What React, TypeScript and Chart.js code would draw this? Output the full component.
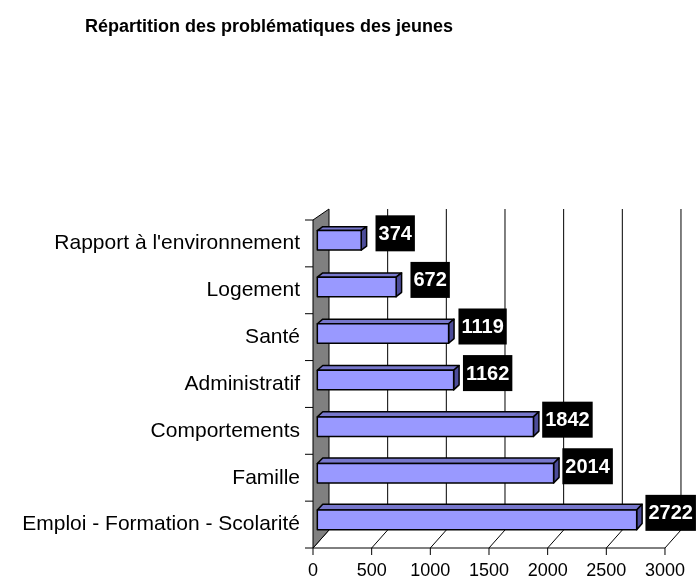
import { useEffect, useRef } from "react";
import { Chart, registerables } from "chart.js";

Chart.register(...registerables);

const chartTitle = "Répartition des problématiques des jeunes";
const categories = [
  "Rapport à l'environnement",
  "Logement",
  "Santé",
  "Administratif",
  "Comportements",
  "Famille",
  "Emploi - Formation - Scolarité",
];
const values = [374, 672, 1119, 1162, 1842, 2014, 2722];
const xMin = 0;
const xMax = 3000;
const xStep = 500;

const FONT = "'Liberation Sans', Arial, Helvetica, sans-serif";
const BAR_FRONT = "#9999FF";
const BAR_TOP = "#7777CC";
const BAR_SIDE = "#4C4C99";
const WALL = "#808080";

function makeProj(a: { left: number; top: number; right: number; bottom: number }) {
  const T = a.top;
  const B = a.bottom;
  const D = 16;
  const backT = T - 11;
  const backB = B - 18;
  return (x: number, y: number, t: number): [number, number] => {
    const backY = backT + ((y - T) * (backB - backT)) / (B - T);
    return [x + D * t, y + t * (backY - y)];
  };
}

const threeDPlugin = {
  id: "threeD",
  beforeDatasetsDraw(chart: any) {
    const { ctx, chartArea: a, scales } = chart;
    const xs = scales.x;
    const ys = scales.y;
    const L = a.left;
    const T = a.top;
    const B = a.bottom;
    const proj = makeProj(a);
    ctx.save();
    ctx.strokeStyle = "#000";
    ctx.lineWidth = 1;
    xs.ticks.forEach((tk: any) => {
      const px = xs.getPixelForValue(tk.value);
      const [bx1, by1] = proj(px, T, 1);
      const [bx2, by2] = proj(px, B, 1);
      const [fx, fy] = proj(px, B, 0);
      ctx.beginPath();
      if (tk.value !== xMin) {
        ctx.moveTo(bx1, by1);
        ctx.lineTo(bx2, by2);
      }
      ctx.moveTo(bx2, by2);
      ctx.lineTo(fx, fy);
      ctx.moveTo(fx, fy);
      ctx.lineTo(fx, fy + 7);
      ctx.stroke();
    });
    ctx.beginPath();
    ctx.moveTo(xs.getPixelForValue(xMin), B);
    ctx.lineTo(xs.getPixelForValue(xMax), B);
    ctx.stroke();
    const p1 = proj(L, T, 0);
    const p2 = proj(L, T, 1);
    const p3 = proj(L, B, 1);
    const p4 = proj(L, B, 0);
    ctx.beginPath();
    ctx.moveTo(p1[0], p1[1]);
    ctx.lineTo(p2[0], p2[1]);
    ctx.lineTo(p3[0], p3[1]);
    ctx.lineTo(p4[0], p4[1]);
    ctx.closePath();
    ctx.fillStyle = WALL;
    ctx.fill();
    ctx.stroke();
    const n = ys.ticks.length;
    const step = (B - T) / n;
    ctx.beginPath();
    for (let i = 0; i <= n; i++) {
      const y = i < n ? ys.getPixelForValue(i) - step / 2 : ys.getPixelForValue(n - 1) + step / 2;
      ctx.moveTo(L - 8, y);
      ctx.lineTo(L, y);
    }
    ctx.stroke();
    ctx.restore();
  },
  afterDatasetsDraw(chart: any) {
    const { ctx, chartArea: a } = chart;
    const proj = makeProj(a);
    const meta = chart.getDatasetMeta(0);
    const t0 = 0.27;
    const t1 = 0.61;
    ctx.save();
    ctx.lineJoin = "round";
    meta.data.forEach((el: any, i: number) => {
      const p = el.getProps(["x", "y", "base", "height"], true);
      const x0 = p.base;
      const x1 = p.x;
      const yT = p.y - p.height / 2;
      const yB = p.y + p.height / 2;
      const fTL = proj(x0, yT, t0);
      const fTR = proj(x1, yT, t0);
      const fBR = proj(x1, yB, t0);
      const fBL = proj(x0, yB, t0);
      const bTL = proj(x0, yT, t1);
      const bTR = proj(x1, yT, t1);
      const bBR = proj(x1, yB, t1);
      const poly = (pts: [number, number][], fill: string) => {
        ctx.beginPath();
        ctx.moveTo(pts[0][0], pts[0][1]);
        for (let k = 1; k < pts.length; k++) ctx.lineTo(pts[k][0], pts[k][1]);
        ctx.closePath();
        ctx.fillStyle = fill;
        ctx.fill();
        ctx.strokeStyle = "#000";
        ctx.lineWidth = 1.5;
        ctx.stroke();
      };
      poly([fTL, fTR, bTR, bTL], BAR_TOP);
      poly([fTR, bTR, bBR, fBR], BAR_SIDE);
      poly([fTL, fTR, fBR, fBL], BAR_FRONT);

      const txt = String(values[i]);
      ctx.font = `bold 20px ${FONT}`;
      const w = ctx.measureText(txt).width + 6;
      const h = 36;
      let cx = fTR[0] + 34;
      if (cx + w / 2 > chart.width - 1) cx = chart.width - 1 - w / 2;
      const cy = (fTR[1] + fBR[1]) / 2 - 7;
      ctx.fillStyle = "#000";
      ctx.fillRect(cx - w / 2, cy - h / 2, w, h);
      ctx.fillStyle = "#fff";
      ctx.textAlign = "center";
      ctx.textBaseline = "middle";
      ctx.fillText(txt, cx, cy + 1);
    });
    ctx.restore();
  },
  afterDraw(chart: any) {
    const { ctx } = chart;
    ctx.save();
    ctx.font = `bold 18px ${FONT}`;
    ctx.fillStyle = "#000";
    ctx.textAlign = "center";
    ctx.textBaseline = "alphabetic";
    ctx.fillText(chartTitle, 269, 31.5);
    ctx.restore();
  },
};

export default function App() {
  const ref = useRef<HTMLCanvasElement | null>(null);
  useEffect(() => {
    if (!ref.current) return;
    const chart = new Chart(ref.current, {
      type: "bar",
      data: {
        labels: categories,
        datasets: [
          {
            data: values,
            backgroundColor: "rgba(0,0,0,0)",
            borderWidth: 0,
            barPercentage: 0.42,
            categoryPercentage: 1,
          },
        ],
      },
      options: {
        indexAxis: "y",
        responsive: false,
        animation: false,
        devicePixelRatio: 1,
        layout: { padding: { top: 220, right: 27, bottom: 0, left: 0 } },
        plugins: {
          legend: { display: false },
          title: { display: false },
          tooltip: { enabled: false },
        },
        scales: {
          x: {
            type: "linear",
            position: "bottom",
            min: xMin,
            max: xMax,
            ticks: {
              stepSize: xStep,
              font: { family: FONT, size: 18 },
              color: "#000",
              padding: 12,
              maxRotation: 0,
              callback: (v: any) => String(v),
            },
            grid: { display: false, drawTicks: false },
            border: { display: false },
            afterFit: (s: any) => {
              s.height = 31;
            },
          },
          y: {
            type: "category",
            position: "left",
            ticks: {
              font: { family: FONT, size: 21 },
              color: "#000",
              padding: 13,
              autoSkip: false,
            },
            grid: { display: false, drawTicks: false },
            border: { display: false },
            afterFit: (s: any) => {
              s.width = 313;
            },
          },
        },
      } as any,
      plugins: [threeDPlugin],
    });
    return () => chart.destroy();
  }, []);
  return (
    <div style={{ position: "fixed", left: 0, top: 0, width: 697, height: 579, background: "#fff" }}>
      <canvas ref={ref} width={697} height={579} style={{ display: "block" }} />
    </div>
  );
}
